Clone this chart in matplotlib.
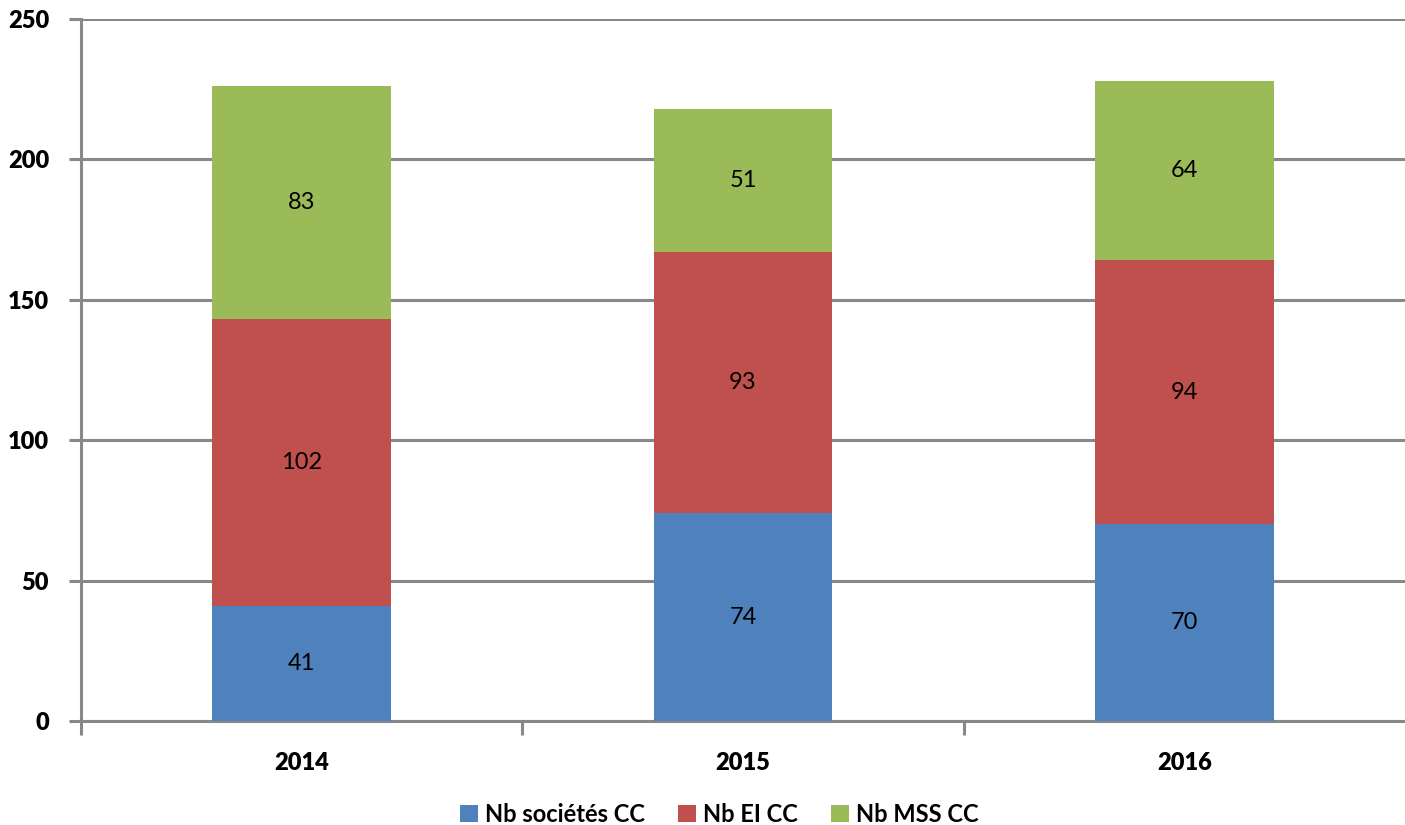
import matplotlib.pyplot as plt
import numpy as np

years = ['2014', '2015', '2016']
nb_societes = [41, 74, 70]
nb_ei = [102, 93, 94]
nb_mss = [83, 51, 64]
series_names = ['Nb sociétés CC', 'Nb EI CC', 'Nb MSS CC']
colors = ['#4F81BD', '#C0504D', '#9BBB59']
yticks = [0, 50, 100, 150, 200, 250]

plt.rcParams['font.family'] = ['Lato', 'DejaVu Sans']
plt.rcParams['font.weight'] = 'bold'

fig = plt.figure(figsize=(14.05, 8.25), dpi=100)
ax = fig.add_axes([81 / 1405, 104 / 825, 1 - 81 / 1405, 702 / 825])

x = np.arange(len(years))
bottom = np.zeros(len(years))
for vals, name, col in zip([nb_societes, nb_ei, nb_mss], series_names, colors):
    bars = ax.bar(x, vals, width=0.405, bottom=bottom, color=col, label=name, zorder=3)
    ax.bar_label(bars, labels=[str(v) for v in vals], label_type='center',
                 fontsize=17, fontweight='normal', color='black')
    bottom += np.array(vals)

grid_col = '#888888'
ax.set_ylim(0, 250)
ax.set_xlim(-0.5, 2.5)
ax.set_yticks(yticks)
ax.yaxis.grid(True, color=grid_col, linewidth=2.2, zorder=0)
ax.set_axisbelow(True)

for s in ['top', 'right']:
    ax.spines[s].set_visible(False)
for s in ['left', 'bottom']:
    ax.spines[s].set_color(grid_col)
    ax.spines[s].set_linewidth(2.2)

ax.set_xticks(x, labels=years)
ax.tick_params(axis='x', which='major', length=0, pad=22, labelsize=17)
ax.set_xticks([-0.5, 0.5, 1.5], minor=True)
ax.tick_params(axis='x', which='minor', length=10, width=2.2, color=grid_col)
ax.tick_params(axis='y', length=9, width=2.2, color=grid_col, pad=14, labelsize=17)
for lbl in ax.get_yticklabels() + ax.get_xticklabels():
    lbl.set_fontweight('heavy')

fig.legend(loc='lower center', ncol=3, frameon=False, bbox_to_anchor=(0.512, -0.027),
           prop={'size': 17, 'weight': 'bold'}, handlelength=0.75, handleheight=0.75,
           handletextpad=0.3, columnspacing=1.4)

fig.savefig('out.png', dpi=100)
